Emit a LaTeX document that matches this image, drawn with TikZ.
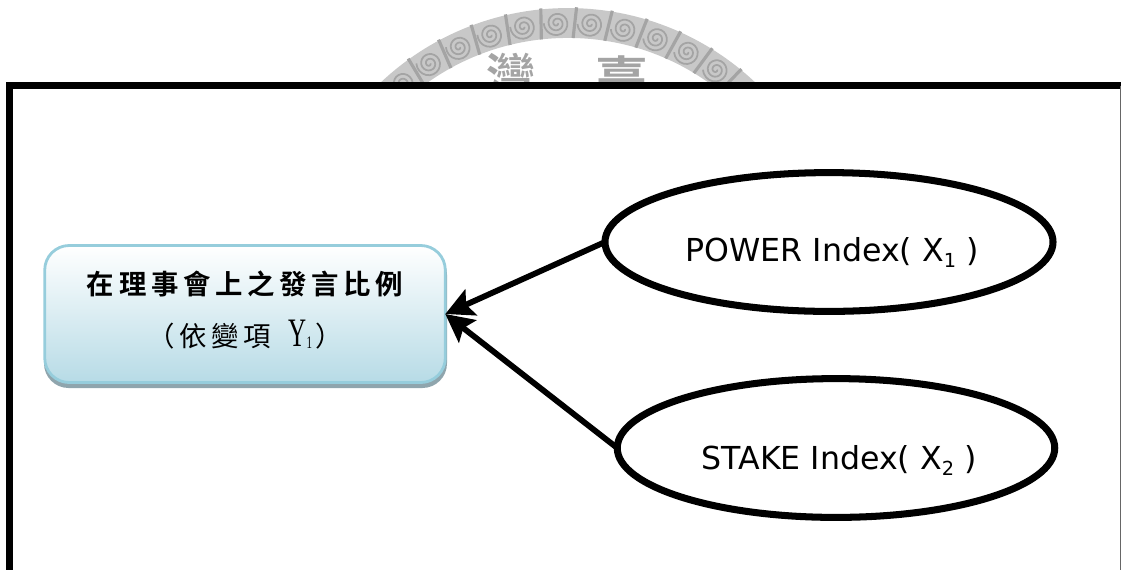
\documentclass[tikz,border=0pt]{standalone}
\usepackage{fontspec}
\setmainfont{DejaVu Sans}
\newfontfamily\cjkbold[LetterSpace=17]{Noto Sans CJK TC Bold}
\newfontfamily\cjkplain[LetterSpace=17]{Noto Sans CJK TC}
\newfontfamily\latinserif[FakeStretch=.62]{Liberation Serif}
\usetikzlibrary{arrows.meta, shapes.geometric}

\definecolor{boxline}{HTML}{96CDDC}
\definecolor{boxfill}{HTML}{B7DBE6}
\definecolor{boxshade}{HTML}{8FA5AD}
\definecolor{sealgrey}{HTML}{C8C8C8}
\definecolor{sealdark}{HTML}{A4A4A4}

\tikzset{
    resultbox/.style = {
        draw = boxline, line width = 1.6pt, rounded corners = 14pt,
        top color = white, bottom color = boxfill,
        minimum width = 228pt, minimum height = 78pt, align = center,
        outer sep = 0pt
    },
    indexring/.style = {
        draw, ellipse, line width = 4pt, outer sep = 0pt, inner sep = 0pt, minimum height = 79pt,
        font = \fontsize{18}{20}\selectfont
    },
    effect/.style = {
        line width = 3.3pt, -{Stealth[length = 16pt, width = 16pt, inset = 3pt]}
    }
}

\begin{document}
\begin{tikzpicture}[x = 0.02cm, y = -0.02cm]
            \clip (0, 0) rectangle (1122, 569);

            \begin{scope}
                \clip (300, 0) rectangle (840, 84);
                \draw[sealgrey, line width = 17pt] (568, 281) circle [radius = 258];
                \foreach \a in {-130, -122.5, ..., -50} {
                    \begin{scope}[shift = {(\a:258 and 258)}, shift = {(568, 281)}]
                        \draw[sealdark, line width = 1pt] plot [domain = 0:900, samples = 50, smooth] (\x:{1 + \x / 75});
                    \end{scope}
                    \draw[sealdark, line width = 1.8pt] (568, 281) ++(\a + 3.7:243) -- ++(\a + 9:31);
                }
                \node (sealleft) [text = sealdark, font = \cjkbold\fontsize{28}{30}\selectfont] at (511, 76) {灣};
                \node (sealright) [text = sealdark, font = \cjkbold\fontsize{30}{30}\selectfont] at (622, 80) {臺};
            \end{scope}

            \draw[line width = 4pt] (9.5, 580) -- (9.5, 85.5) -- (1121, 85.5);
            \draw[black!60, line width = .6pt] (1120.5, 85.5) -- (1120.5, 580);

            \fill[boxshade, rounded corners = 14pt] (44, 250) rectangle (447, 388);

            \draw
                (245, 314) node (share) [resultbox] {
                    {\cjkbold\fontsize{15.6}{26}\selectfont 在理事會上之發言比例}\\[12.1pt]
                    {\cjkplain\fontsize{15.6}{26}\selectfont （依變項\hspace{4pt} {\latinserif\fontsize{23}{20}\selectfont Y\raisebox{-1pt}{\fontsize{10}{9}\selectfont 1}}\hspace{2pt}）}\rule[-5.6pt]{0pt}{5.6pt}
                }
                (829, 242) node (power) [indexring, minimum width = 255pt] {\hspace*{3.4pt}\raisebox{-11.3pt}[0pt][0pt]{POWER Index( X\raisebox{-3pt}{\fontsize{11}{11}\selectfont 1} )}}
                (836, 448) node (stake) [indexring, minimum width = 249pt] {\hspace*{3.4pt}\raisebox{-12.5pt}[0pt][0pt]{STAKE Index( X\raisebox{-3pt}{\fontsize{11}{11}\selectfont 2} )}}

                (power.west) edge [effect] (share.east)
                (stake.west) edge [effect] (share.east)
            ;
        \end{tikzpicture}
\end{document}
